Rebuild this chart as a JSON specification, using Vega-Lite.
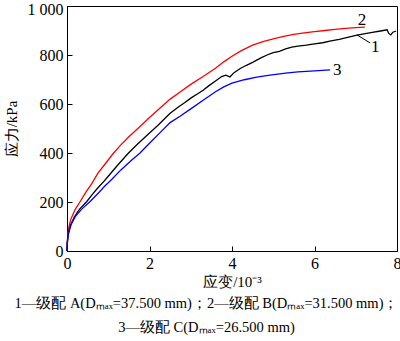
{
  "$schema": "https://vega.github.io/schema/vega-lite/v6.json",
  "width": 330,
  "height": 245,
  "autosize": {"type": "none"},
  "padding": {"left": 67, "top": 6, "right": 3, "bottom": 90},
  "background": "white",
  "config": {
    "view": {"stroke": "black", "strokeWidth": 1},
    "font": "Liberation Serif, serif",
    "axis": {
      "grid": false,
      "domainColor": "black",
      "tickColor": "black",
      "tickSize": -5,
      "labelFont": "Liberation Serif, serif",
      "labelFontSize": 16,
      "labelColor": "black",
      "titleFont": "Liberation Serif, serif",
      "titleFontSize": 15,
      "titleFontWeight": "normal",
      "titleColor": "black"
    }
  },
  "title": {
    "text": ["1—级配 A(Dₘₐₓ=37.500 mm)；2—级配 B(Dₘₐₓ=31.500 mm)；", "3—级配 C(Dₘₐₓ=26.500 mm)"],
    "orient": "bottom",
    "anchor": "middle",
    "frame": "bounds",
    "font": "Liberation Serif, serif",
    "fontSize": 14.5,
    "fontWeight": "normal",
    "color": "black",
    "lineHeight": 24,
    "offset": 8,
    "dx": 4
  },
  "datasets": {
    "curves": [
      {"s":"2","x":0,"y":0},{"s":"2","x":0.005,"y":32},{"s":"2","x":0.02,"y":68},{"s":"2","x":0.05,"y":102},{"s":"2","x":0.1,"y":133},{"s":"2","x":0.2,"y":170},{"s":"2","x":0.32,"y":202},{"s":"2","x":0.45,"y":238},{"s":"2","x":0.6,"y":275},{"s":"2","x":0.75,"y":318},{"s":"2","x":0.9,"y":350},{"s":"2","x":1.12,"y":398},{"s":"2","x":1.3,"y":432},{"s":"2","x":1.5,"y":466},{"s":"2","x":1.75,"y":505},{"s":"2","x":2.0,"y":545},{"s":"2","x":2.25,"y":583},{"s":"2","x":2.5,"y":620},{"s":"2","x":2.75,"y":650},{"s":"2","x":3.0,"y":680},{"s":"2","x":3.3,"y":712},{"s":"2","x":3.6,"y":746},{"s":"2","x":3.8,"y":772},{"s":"2","x":4.0,"y":795},{"s":"2","x":4.25,"y":820},{"s":"2","x":4.5,"y":840},{"s":"2","x":4.75,"y":855},{"s":"2","x":5.0,"y":866},{"s":"2","x":5.25,"y":876},{"s":"2","x":5.5,"y":884},{"s":"2","x":5.75,"y":890},{"s":"2","x":6.0,"y":895},{"s":"2","x":6.25,"y":900},{"s":"2","x":6.5,"y":905},{"s":"2","x":6.75,"y":909},{"s":"2","x":7.0,"y":912},{"s":"2","x":7.22,"y":914},
      {"s":"1","x":0,"y":0},{"s":"1","x":0.005,"y":30},{"s":"1","x":0.03,"y":68},{"s":"1","x":0.08,"y":103},{"s":"1","x":0.18,"y":140},{"s":"1","x":0.3,"y":170},{"s":"1","x":0.48,"y":202},{"s":"1","x":0.62,"y":232},{"s":"1","x":0.75,"y":258},{"s":"1","x":0.9,"y":285},{"s":"1","x":1.0,"y":305},{"s":"1","x":1.2,"y":345},{"s":"1","x":1.48,"y":398},{"s":"1","x":1.7,"y":435},{"s":"1","x":2.0,"y":482},{"s":"1","x":2.2,"y":512},{"s":"1","x":2.5,"y":562},{"s":"1","x":2.7,"y":588},{"s":"1","x":2.85,"y":605},{"s":"1","x":3.0,"y":624},{"s":"1","x":3.15,"y":640},{"s":"1","x":3.3,"y":656},{"s":"1","x":3.45,"y":676},{"s":"1","x":3.6,"y":694},{"s":"1","x":3.75,"y":712},{"s":"1","x":3.85,"y":718},{"s":"1","x":3.95,"y":710},{"s":"1","x":4.05,"y":728},{"s":"1","x":4.2,"y":745},{"s":"1","x":4.35,"y":758},{"s":"1","x":4.5,"y":770},{"s":"1","x":4.7,"y":788},{"s":"1","x":4.85,"y":800},{"s":"1","x":5.0,"y":810},{"s":"1","x":5.15,"y":815},{"s":"1","x":5.3,"y":825},{"s":"1","x":5.45,"y":832},{"s":"1","x":5.6,"y":836},{"s":"1","x":5.8,"y":840},{"s":"1","x":6.0,"y":845},{"s":"1","x":6.2,"y":850},{"s":"1","x":6.4,"y":858},{"s":"1","x":6.6,"y":864},{"s":"1","x":6.8,"y":872},{"s":"1","x":7.03,"y":881},{"s":"1","x":7.2,"y":886},{"s":"1","x":7.4,"y":892},{"s":"1","x":7.6,"y":898},{"s":"1","x":7.76,"y":903},{"s":"1","x":7.8,"y":888},{"s":"1","x":7.85,"y":882},{"s":"1","x":7.9,"y":893},{"s":"1","x":7.98,"y":898},
      {"s":"3","x":0,"y":0},{"s":"3","x":0.005,"y":28},{"s":"3","x":0.03,"y":68},{"s":"3","x":0.1,"y":108},{"s":"3","x":0.2,"y":140},{"s":"3","x":0.35,"y":170},{"s":"3","x":0.56,"y":202},{"s":"3","x":0.75,"y":235},{"s":"3","x":0.9,"y":262},{"s":"3","x":1.1,"y":295},{"s":"3","x":1.3,"y":330},{"s":"3","x":1.55,"y":368},{"s":"3","x":1.77,"y":400},{"s":"3","x":2.0,"y":440},{"s":"3","x":2.25,"y":482},{"s":"3","x":2.5,"y":524},{"s":"3","x":2.74,"y":550},{"s":"3","x":3.0,"y":580},{"s":"3","x":3.3,"y":615},{"s":"3","x":3.6,"y":650},{"s":"3","x":3.8,"y":670},{"s":"3","x":4.0,"y":685},{"s":"3","x":4.3,"y":699},{"s":"3","x":4.6,"y":710},{"s":"3","x":4.92,"y":718},{"s":"3","x":5.3,"y":726},{"s":"3","x":5.6,"y":731},{"s":"3","x":6.0,"y":735},{"s":"3","x":6.38,"y":739}
    ],
    "labels": [
      {"t":"2","x":7.15,"y":943},
      {"t":"1","x":7.47,"y":833},
      {"t":"3","x":6.55,"y":739}
    ],
    "leader": [
      {"x":7.03,"y":882,"x2":7.35,"y2":849}
    ]
  },
  "layer": [
    {
      "data": {"name": "curves"},
      "mark": {"type": "line", "strokeWidth": 1.3},
      "encoding": {
        "x": {"field": "x", "type": "quantitative", "scale": {"domain": [0, 8], "nice": false}, "axis": {"title": "应变/10⁻³", "values": [0, 2, 4, 6, 8], "labelFont": "Liberation Serif, serif", "labelPadding": 9, "titlePadding": 3, "labelFlush": false}},
        "y": {"field": "y", "type": "quantitative", "scale": {"domain": [0, 1000], "nice": false}, "axis": {"title": "应力/kPa", "values": [0, 200, 400, 600, 800, 1000], "labelFont": "Liberation Serif, serif", "labelExpr": "datum.value == 1000 ? '1 000' : datum.label", "labelOffset": {"condition": {"test": "datum.value == 1000", "value": 3}, "value": 0}, "labelPadding": 9, "titlePadding": 8, "labelFlush": false}},
        "color": {"field": "s", "type": "nominal", "scale": {"domain": ["1", "2", "3"], "range": ["#000000", "#ff0000", "#0000ff"]}, "legend": null},
        "order": {"field": "x", "type": "quantitative"}
      }
    },
    {
      "data": {"name": "leader"},
      "mark": {"type": "rule", "color": "black", "strokeWidth": 1},
      "encoding": {
        "x": {"field": "x", "type": "quantitative"},
        "y": {"field": "y", "type": "quantitative"},
        "x2": {"field": "x2"},
        "y2": {"field": "y2"}
      }
    },
    {
      "data": {"name": "labels"},
      "mark": {"type": "text", "font": "Liberation Serif, serif", "fontSize": 17, "color": "black", "align": "center", "baseline": "middle"},
      "encoding": {
        "x": {"field": "x", "type": "quantitative"},
        "y": {"field": "y", "type": "quantitative"},
        "text": {"field": "t"}
      }
    }
  ]
}
